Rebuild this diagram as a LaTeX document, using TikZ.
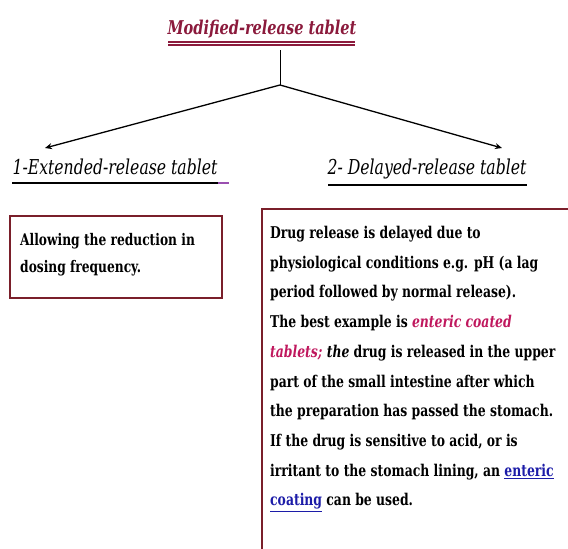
\documentclass[tikz,border=0pt]{standalone}
\usepackage{fontspec}
\setmainfont{DejaVu Serif}
\newfontfamily\bodyf{DejaVu Serif Condensed}[FakeStretch=0.85]
\newfontfamily\headf{DejaVu Serif Condensed}[FakeStretch=0.85]
\usetikzlibrary{arrows.meta}
\definecolor{titlered}{HTML}{8B1A3C}
\definecolor{boxred}{HTML}{7A1F2A}
\definecolor{pinkt}{HTML}{C0185E}
\definecolor{linkblue}{HTML}{1C1CA8}
\definecolor{tickpurple}{HTML}{9A4FB0}
\tikzset{
  headstyle/.style={inner sep=0pt, font=\headf\itshape\fontsize{20.5}{24}\selectfont},
  titlestyle/.style={inner sep=0pt, text=titlered, font=\headf\bfseries\itshape\fontsize{19}{22}\selectfont},
  boxstyle/.style={draw=boxred, line width=2pt},
  bodytext/.style={inner sep=0pt, align=left, font=\bodyf\bfseries\fontsize{16.2}{29.7}\selectfont},
  conn/.style={line width=1.3pt, -{Stealth[length=7pt,width=6pt]}}
}
\begin{document}
\begin{tikzpicture}[x=1pt,y=-1pt]
\useasboundingbox (0,0) rectangle (568,549);
\fill[white] (0,0) rectangle (568,549);
% title
\node[titlestyle] (title) at (262,29) {Modified-release tablet};
\draw[titlered, line width=1.3pt] (168,42) -- (355,42);
\draw[titlered, line width=1.3pt] (168,45) -- (355,45);
\coordinate (top) at (280,50);
\coordinate (fork) at (280,85);
\coordinate (a1) at (45,148);
\coordinate (a2) at (502,148);
\draw[line width=0.9pt] (top) -- (fork);
\draw[conn] (fork) -- (a1);
\draw[conn] (fork) -- (a2);
% headings
\node[headstyle] (h1) at (115,167) {1-Extended-release tablet};
\draw[line width=1.4pt] (12,183) -- (218,183);
\draw[tickpurple, line width=1.4pt] (218,183) -- (229,183);
\node[headstyle] (h2) at (427,169) {2- Delayed-release tablet};
\draw[line width=1.4pt] (328,185) -- (527,185);
% left box
\node[boxstyle, minimum width=212pt, minimum height=82pt, anchor=north west] (lbox) at (9,215) {};
\node[bodytext, font=\bodyf\bfseries\fontsize{16}{27}\selectfont, anchor=north west] (ltext) at (20,233) {Allowing the reduction in\\dosing frequency.};
% right box
\node[boxstyle, minimum width=311pt, minimum height=352pt, anchor=north west] (rbox) at (261,208) {};
\node[bodytext, anchor=north west] (rtext) at (270,226) {Drug release is delayed due to\\
physiological conditions e.g. pH (a lag\\
period followed by normal release).\\
The best example is {\color{pinkt}\itshape enteric coated}\\
{\color{pinkt}\itshape tablets;} {\itshape the} drug is released in the upper\\
part of the small intestine after which\\
the preparation has passed the stomach.\\
If the drug is sensitive to acid, or is\\
irritant to the stomach lining, an {\color{linkblue}\underline{enteric}}\\
{\color{linkblue}\underline{coating}} can be used.};
\end{tikzpicture}
\end{document}
